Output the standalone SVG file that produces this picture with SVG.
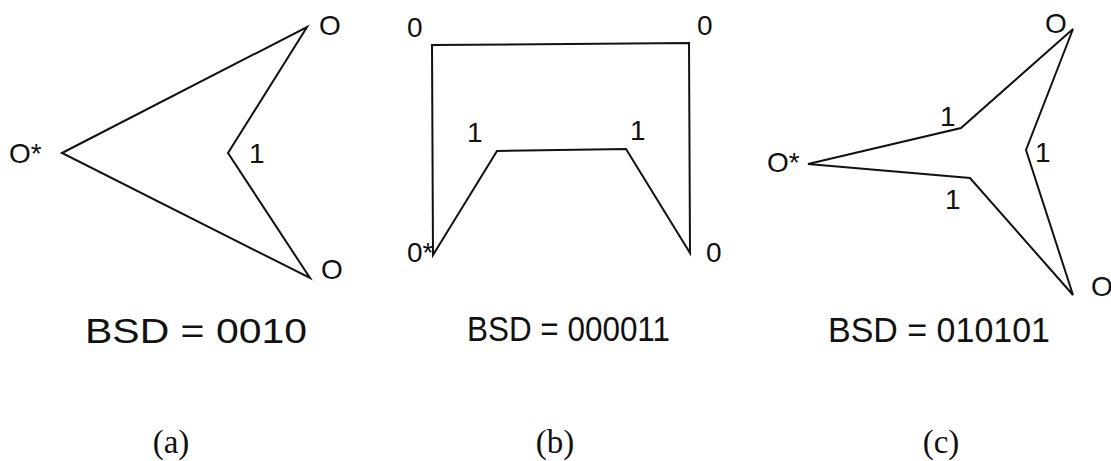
<svg xmlns="http://www.w3.org/2000/svg" width="1111" height="461" viewBox="0 0 1111 461">
<style>
.shape{fill:none;stroke:#111;stroke-width:2;stroke-linejoin:miter}
.lbl{font-family:"Liberation Sans",Arial,sans-serif;font-size:28px;fill:#111}
.bsd{font-family:"Liberation Sans",Arial,sans-serif;font-size:35px;fill:#111}
.cap{font-family:"Liberation Serif","Times New Roman",serif;font-size:33px;fill:#111;text-anchor:middle}
</style>
<rect width="1111" height="461" fill="#fff"/>
<g id="shape-a">
<polygon class="shape" points="62,153 307,27 228,153 310,278"/>
<text class="lbl" x="319" y="35">O</text>
<text class="lbl" x="9" y="163">O*</text>
<text class="lbl" x="249" y="163">1</text>
<text class="lbl" x="321" y="279">O</text>
<text class="bsd" x="85" y="343" textLength="222" lengthAdjust="spacingAndGlyphs">BSD = 0010</text>
<text class="cap" x="171" y="453">(a)</text>
</g>
<g id="shape-b">
<polygon class="shape" points="432,45 689,43 690,253 626,149 497,151 433,255"/>
<text class="lbl" x="407" y="37">0</text>
<text class="lbl" x="697" y="35">0</text>
<text class="lbl" x="467" y="142">1</text>
<text class="lbl" x="630" y="140">1</text>
<text class="lbl" x="407" y="262">0*</text>
<text class="lbl" x="706" y="262">0</text>
<text class="bsd" x="467" y="341" textLength="203" lengthAdjust="spacingAndGlyphs">BSD = 000011</text>
<text class="cap" x="555" y="453">(b)</text>
</g>
<g id="shape-c">
<polygon class="shape" points="1073,29 961,128 808,164 970,178 1073,295 1026,150"/>
<text class="lbl" x="1045" y="33">O</text>
<text class="lbl" x="940" y="126">1</text>
<text class="lbl" x="767" y="172">O*</text>
<text class="lbl" x="1035" y="162">1</text>
<text class="lbl" x="945" y="209">1</text>
<text class="lbl" x="1091" y="296">O</text>
<text class="bsd" x="828" y="342" textLength="222" lengthAdjust="spacingAndGlyphs">BSD = 010101</text>
<text class="cap" x="941" y="453">(c)</text>
</g>
<g id="connectors"></g>
</svg>
